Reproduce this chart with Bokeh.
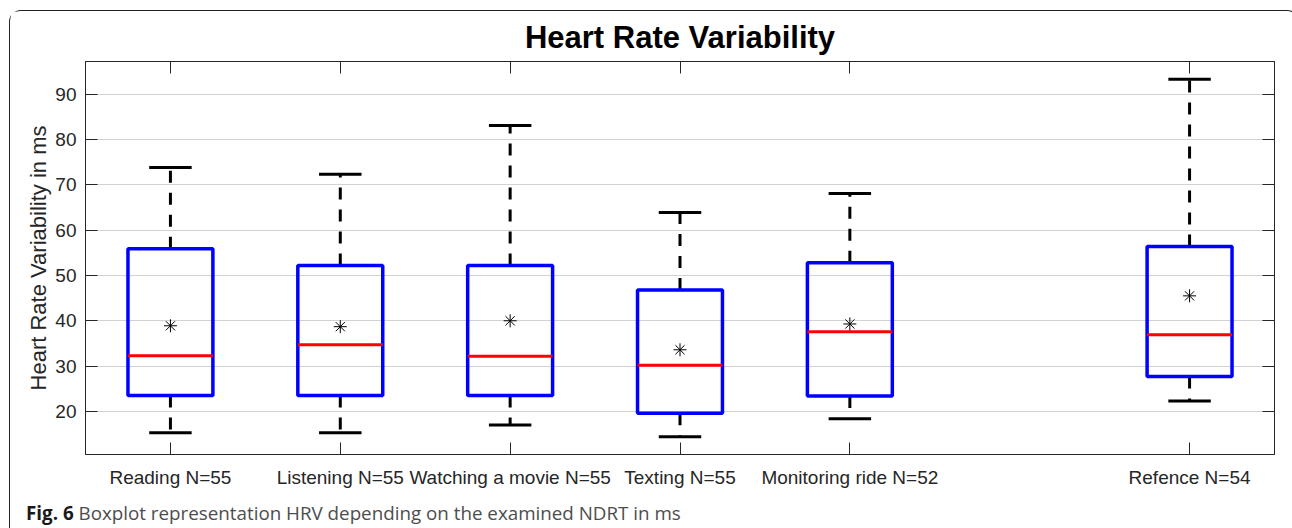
from bokeh.plotting import figure
from bokeh.layouts import column
from bokeh.models import FixedTicker, LinearAxis, Range1d, ColumnDataSource, Div
from bokeh.embed import file_html
from bokeh.resources import INLINE

# ---- data ----
categories = ["Reading N=55", "Listening N=55", "Watching a movie N=55",
              "Texting N=55", "Monitoring ride N=52", "Refence N=54"]
positions = [1, 2, 3, 4, 5, 7]
upper = [73.8, 72.3, 83.1, 63.9, 68.1, 93.3]
q3 = [55.9, 52.2, 52.2, 46.8, 52.8, 56.4]
median = [32.3, 34.7, 32.2, 30.2, 37.6, 36.9]
mean = [38.9, 38.7, 40.0, 33.6, 39.3, 45.5]
q1 = [23.5, 23.5, 23.5, 19.6, 23.4, 27.7]
lower = [15.3, 15.3, 17.0, 14.4, 18.4, 22.3]
y_ticks = [20, 30, 40, 50, 60, 70, 80, 90]

title_text = "Heart Rate Variability"
y_label = "Heart Rate Variability in ms"
caption_bold = "Fig. 6"
caption_text = "Boxplot representation HRV depending on the examined NDRT in ms"

BOX_W = 0.5
CAP_W = 0.25

src = ColumnDataSource(dict(
    x=positions, upper=upper, q3=q3, median=median, mean=mean, q1=q1, lower=lower,
    bl=[x - BOX_W / 2 for x in positions], br=[x + BOX_W / 2 for x in positions],
    cl=[x - CAP_W / 2 for x in positions], cr=[x + CAP_W / 2 for x in positions],
))

FONT = "Liberation Sans"
DARK = "#262626"

p = figure(width=1278, height=480, output_backend="svg", toolbar_location=None,
           x_range=Range1d(0.5, 7.5), y_range=Range1d(10.5, 97.2),
           min_border_left=75, min_border_right=14, min_border_top=50, min_border_bottom=37,
           outline_line_color=DARK, outline_line_width=1, background_fill_color="white",
           border_fill_color="white")

# title
p.title.text = title_text
p.title.align = "center"
p.title.text_font = FONT
p.title.text_font_size = "31px"
p.title.text_font_style = "bold"
p.title.text_color = "black"
p.title.standoff = 13

# whiskers
p.segment(x0="x", x1="x", y0="q3", y1="upper", source=src, line_color="black",
          line_width=3, line_dash="12 10")
p.segment(x0="x", x1="x", y0="q1", y1="lower", source=src, line_color="black",
          line_width=3, line_dash="12 10")
# caps
p.segment(x0="cl", x1="cr", y0="upper", y1="upper", source=src, line_color="black", line_width=3)
p.segment(x0="cl", x1="cr", y0="lower", y1="lower", source=src, line_color="black", line_width=3)
# boxes
p.quad(left="bl", right="br", bottom="q1", top="q3", source=src, fill_alpha=0,
       line_color="#0000ff", line_width=3.5)
# medians
p.segment(x0="bl", x1="br", y0="median", y1="median", source=src, line_color="#ff0000",
          line_width=3)
# means
p.scatter(x="x", y="mean", source=src, marker="asterisk", size=13, line_color="black",
          line_width=1)

# grid
p.xgrid.visible = False
p.ygrid.ticker = FixedTicker(ticks=y_ticks)
p.ygrid.grid_line_color = "#d2d2d2"
p.ygrid.grid_line_width = 1

# axes
def style_axis(ax, ticks, labels=True):
    ax.ticker = FixedTicker(ticks=ticks)
    ax.major_tick_in = 12
    ax.major_tick_out = 0
    ax.minor_tick_line_color = None
    ax.major_tick_line_color = DARK
    ax.axis_line_color = DARK
    ax.major_label_text_font = FONT
    ax.major_label_text_color = DARK
    if labels:
        ax.major_label_text_font_size = "19px"
    else:
        ax.major_label_overrides = {t: "" for t in ticks}
        ax.major_label_text_font_size = "1px"
        ax.major_label_standoff = 0

style_axis(p.yaxis[0], y_ticks)
p.yaxis[0].major_label_standoff = 9
p.yaxis[0].axis_label = y_label
p.yaxis[0].axis_label_text_font = FONT
p.yaxis[0].axis_label_text_font_size = "22px"
p.yaxis[0].axis_label_text_font_style = "normal"
p.yaxis[0].axis_label_text_color = DARK
p.yaxis[0].axis_label_standoff = 1

style_axis(p.xaxis[0], positions)
p.xaxis[0].major_label_overrides = {pos: lab for pos, lab in zip(positions, categories)}
p.xaxis[0].major_label_standoff = 12

top_ax = LinearAxis()
style_axis(top_ax, positions, labels=False)
p.add_layout(top_ax, "above")
right_ax = LinearAxis()
style_axis(right_ax, y_ticks, labels=False)
p.add_layout(right_ax, "right")

caption = Div(
    text=f"<b style='color:#1a1a1a'>{caption_bold}</b> {caption_text}",
    width=1278, height=34,
    styles={"font-family": "'Open Sans'", "font-size": "18.8px", "color": "#4d4d4d",
            "padding-left": "11px", "padding-top": "4px", "box-sizing": "border-box",
            "white-space": "nowrap"},
)

layout = column(p, caption, spacing=0,
                styles={"margin-left": "9px", "margin-top": "10px",
                        "border": "1.5px solid #222222", "border-bottom": "none",
                        "border-radius": "12px 12px 0 0"})

open("out.html", "w").write(file_html(layout, INLINE))
